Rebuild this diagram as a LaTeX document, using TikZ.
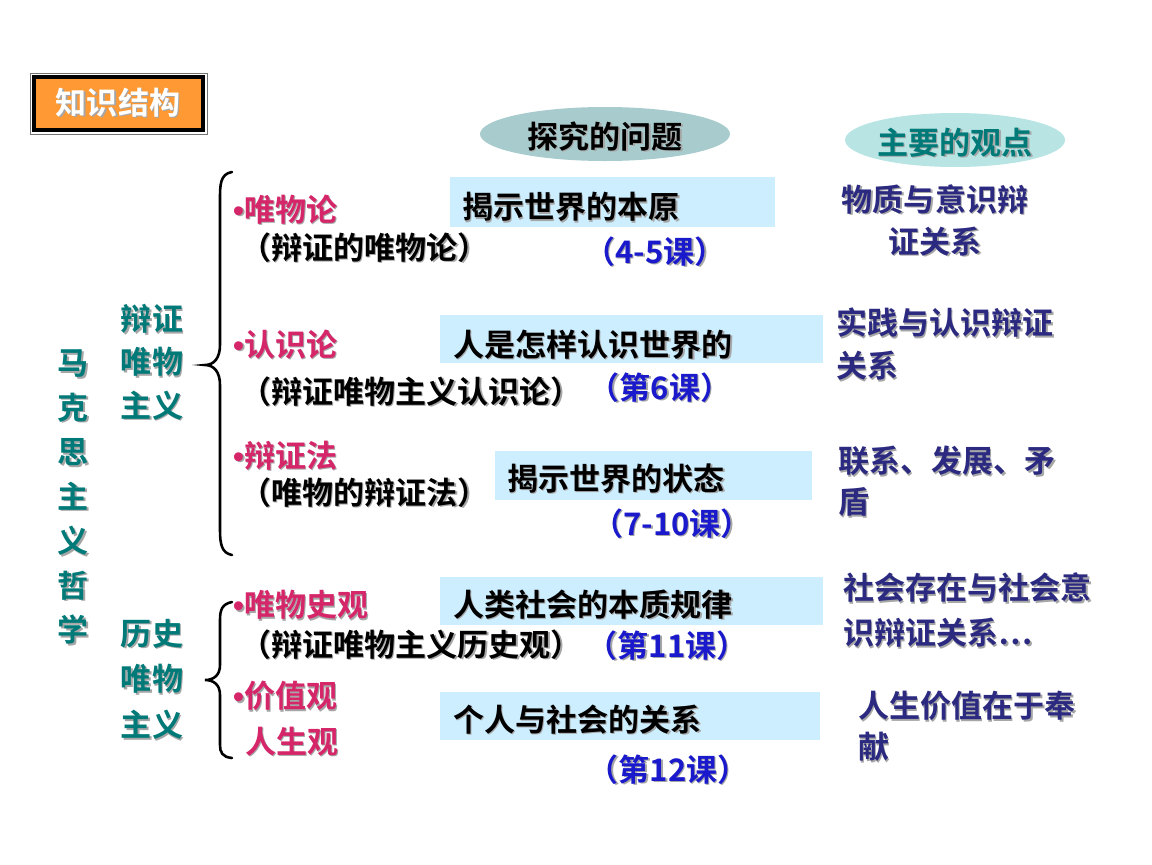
\documentclass[tikz,border=0pt]{standalone}
\usepackage{fontspec}
\setmainfont{Noto Sans CJK SC Bold}
\newfontfamily\lat{Liberation Sans Bold}
\definecolor{teal1}{HTML}{007A78}
\definecolor{crim}{HTML}{D6266A}
\definecolor{navy1}{HTML}{2B2A80}
\definecolor{blu}{HTML}{1A1ACC}
\definecolor{boxb}{HTML}{CCEEFF}
\definecolor{orng}{HTML}{FF9933}
\newcommand\sd[1]{\leavevmode\rlap{\kern1.3pt\raisebox{-1.3pt}{\color{black!35}#1}}#1}
\newcommand\bul{{\lat\textbullet}}
\tikzset{
 t/.style={inner sep=0pt,font=\fontsize{26.5}{36}\selectfont,align=left},
 tl/.style={t,anchor=west},
 bx/.style={fill=boxb,draw=none},
 br/.style={line width=2.2pt,line cap=round}
}
\begin{document}
\begin{tikzpicture}[x=0.03cm,y=-0.03cm]
\useasboundingbox[fill=white] (0,0) rectangle (1152,864);
% title
\draw[black!55,line width=0.8pt] (30,73) rectangle (207,134);
\draw[fill=orng,draw=black,line width=3pt] (34,77) rectangle (203,130);
\node[t,text=white] (title) at (118,103) {\sd{知识结构}};
% ellipses
\draw[fill={rgb,255:red,168;green,204;blue,206},draw=none] (605,134) ellipse (125 and 27);
\node[t] (q) at (605,137) {\sd{探究的问题}};
\draw[fill={rgb,255:red,184;green,228;blue,228},draw=none] (955,140) ellipse (110 and 27);
\node[t,text=teal1] (v) at (955,143) {\sd{主要的观点}};
% left labels
\node[t,text=teal1,align=center,font=\fontsize{26.5}{38}\selectfont] (mk) at (73,498) {\sd{马}\\\sd{克}\\\sd{思}\\\sd{主}\\\sd{义}\\\sd{哲}\\\sd{学}};
\node[t,text=teal1,align=left,font=\fontsize{26.5}{37}\selectfont] (bz) at (152,363) {\sd{辩证}\\\sd{唯物}\\\sd{主义}};
\node[t,text=teal1,align=left,font=\fontsize{26.5}{39}\selectfont] (ls) at (152,680) {\sd{历史}\\\sd{唯物}\\\sd{主义}};
% braces
\draw[br] (232,172) .. controls (220,174) and (220,185) .. (220,200) -- (220,345) .. controls (220,358) and (214,365) .. (205,365) .. controls (214,365) and (220,372) .. (220,385) -- (220,530) .. controls (220,545) and (222,553) .. (232,555);
\draw[br] (232,602) .. controls (222,604) and (220,610) .. (220,620) -- (220,665) .. controls (220,675) and (214,680) .. (205,680) .. controls (214,680) and (220,685) .. (220,695) -- (220,745) .. controls (220,752) and (222,757) .. (232,758);
% items
\node[tl,text=crim] (i1) at (233,210) {\sd{\bul 唯物论}};
\node[tl] (i1b) at (240,248) {\sd{（辩证的唯物论）}};
\node[tl,text=crim] (i2) at (233,345) {\sd{\bul 认识论}};
\node[tl] (i2b) at (240,392) {\sd{（辩证唯物主义认识论）}};
\node[tl,text=crim] (i3) at (233,456) {\sd{\bul 辩证法}};
\node[tl] (i3b) at (240,493) {\sd{（唯物的辩证法）}};
\node[tl,text=crim] (i4) at (233,606) {\sd{\bul 唯物史观}};
\node[tl] (i4b) at (240,645) {\sd{（辩证唯物主义历史观）}};
\node[tl,text=crim] (i5) at (233,697) {\sd{\bul 价值观}};
\node[tl,text=crim] (i5b) at (245,742) {\sd{人生观}};
% boxes
\fill[bx] (450,177) rectangle (775,227);
\node[tl] (b1) at (462,208) {\sd{揭示世界的本原}};
\fill[bx] (440,315) rectangle (823,363);
\node[tl] (b2) at (453,345) {\sd{人是怎样认识世界的}};
\fill[bx] (495,451) rectangle (812,500);
\node[tl] (b3) at (507,479) {\sd{揭示世界的状态}};
\fill[bx] (440,577) rectangle (823,625);
\node[tl] (b4) at (453,605) {\sd{人类社会的本质规律}};
\fill[bx] (440,692) rectangle (820,740);
\node[tl] (b5) at (453,720) {\sd{个人与社会的关系}};
% lessons
\node[t,text=blu] (l1) at (655,252) {\sd{（4-5课）}};
\node[t,text=blu] (l2) at (660,388) {\sd{（第6课）}};
\node[t,text=blu] (l3) at (672,524) {\sd{（7-10课）}};
\node[t,text=blu] (l4) at (667,646) {\sd{（第11课）}};
\node[t,text=blu] (l5) at (668,770) {\sd{（第12课）}};
% viewpoints
\node[t,text=navy1,align=center] (p1) at (935,221) {\sd{物质与意识辩}\\\sd{证关系}};
\node[tl,text=navy1,font=\fontsize{26.5}{37}\selectfont] (p2) at (836,345) {\sd{实践与认识辩证}\\\sd{关系}};
\node[tl,text=navy1,font=\fontsize{26.5}{35}\selectfont] (p3) at (838,482) {\sd{联系、发展、矛}\\\sd{盾}};
\node[tl,text=navy1,font=\fontsize{26.5}{38}\selectfont] (p4) at (843,611) {\sd{社会存在与社会意}\\\sd{识辩证关系…}};
\node[tl,text=navy1,font=\fontsize{26.5}{35}\selectfont] (p5) at (858,727) {\sd{人生价值在于奉}\\\sd{献}};
\end{tikzpicture}
\end{document}
